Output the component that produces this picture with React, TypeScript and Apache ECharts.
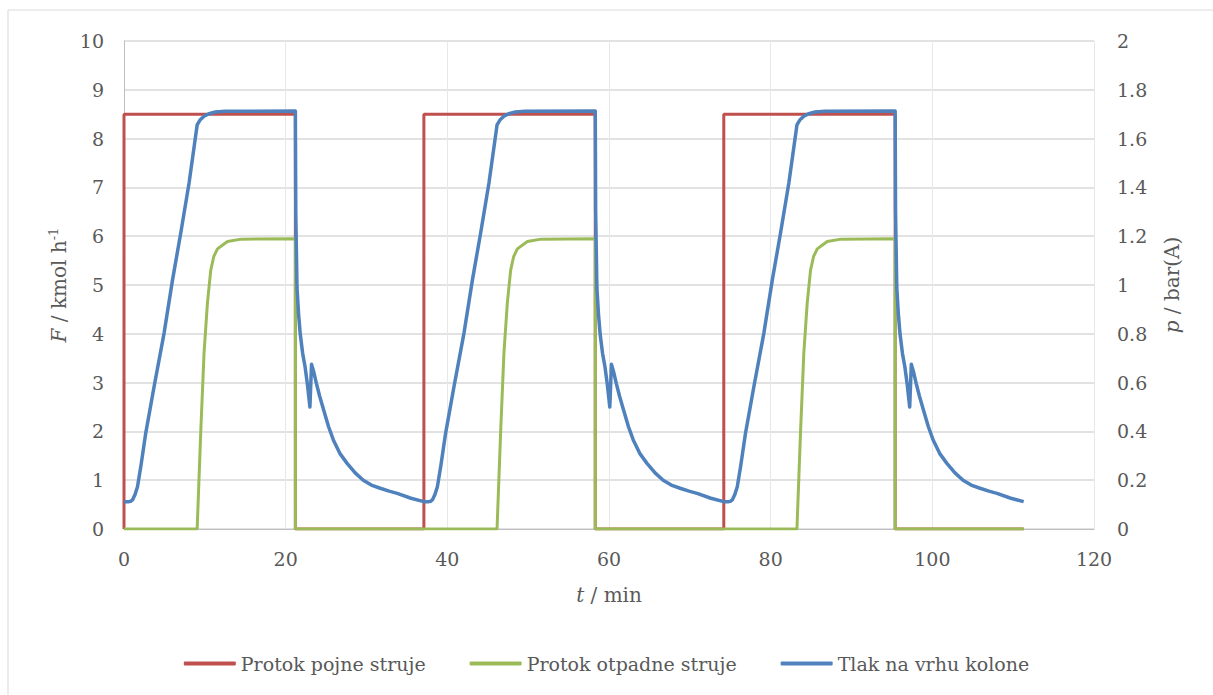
import React, { useEffect, useRef } from "react";
import * as echarts from "echarts";

// Time in minutes, value pairs
const feedFlow: [number, number][] = [
  [0, 0], [0, 8.5], [21.2, 8.5], [21.2, 0],
  [37.1, 0], [37.1, 8.5], [58.3, 8.5], [58.3, 0],
  [74.2, 0], [74.2, 8.5], [95.4, 8.5], [95.4, 0], [111.3, 0],
];

const wasteFlow: [number, number][] = [
  [0, 0], [9.05, 0], [9.49, 1.97], [9.9, 3.6], [10.32, 4.63], [10.73, 5.3], [11.1, 5.58],
  [11.56, 5.74], [12.8, 5.89], [14.5, 5.94], [21.2, 5.95], [21.2, 0],
  [46.15, 0], [46.59, 1.97], [47.0, 3.6], [47.42, 4.63], [47.83, 5.3], [48.2, 5.58],
  [48.66, 5.74], [49.9, 5.89], [51.6, 5.94], [58.3, 5.95], [58.3, 0],
  [83.25, 0], [83.69, 1.97], [84.1, 3.6], [84.52, 4.63], [84.93, 5.3], [85.3, 5.58],
  [85.76, 5.74], [87.0, 5.89], [88.7, 5.94], [95.4, 5.95], [95.4, 0], [111.3, 0],
];

const topPressure: [number, number][] = [
  [0, 0.112], [0.6, 0.112], [0.85, 0.114], [1.05, 0.119], [1.35, 0.14], [1.67, 0.173],
  [2.1, 0.26], [2.69, 0.393], [3.72, 0.583], [4.96, 0.803], [6.0, 1.02], [7.02, 1.213],
  [8.05, 1.418], [9.05, 1.656], [9.4, 1.676], [9.9, 1.692], [10.5, 1.702], [11.3, 1.709],
  [12.5, 1.712], [21.2, 1.713],
  [21.25, 1.3], [21.4, 0.99], [21.6, 0.88], [21.8, 0.8], [22.1, 0.72], [22.4, 0.665],
  [22.7, 0.59], [23.0, 0.5], [23.2, 0.675], [23.5, 0.64], [23.8, 0.597], [24.2, 0.545],
  [24.7, 0.488], [25.3, 0.42], [25.9, 0.365], [26.7, 0.31], [27.6, 0.269], [28.6, 0.23],
  [29.6, 0.2], [30.6, 0.18], [31.7, 0.167], [32.8, 0.155], [33.8, 0.146], [35.5, 0.126],
  [37.1, 0.112],
  [37.7, 0.112], [37.95, 0.114], [38.15, 0.119], [38.45, 0.14], [38.77, 0.173],
  [39.2, 0.26], [39.79, 0.393], [40.82, 0.583], [42.06, 0.803], [43.1, 1.02], [44.12, 1.213],
  [45.15, 1.418], [46.15, 1.656], [46.5, 1.676], [47.0, 1.692], [47.6, 1.702], [48.4, 1.709],
  [49.6, 1.712], [58.3, 1.713],
  [58.35, 1.3], [58.5, 0.99], [58.7, 0.88], [58.9, 0.8], [59.2, 0.72], [59.5, 0.665],
  [59.8, 0.59], [60.1, 0.5], [60.3, 0.675], [60.6, 0.64], [60.9, 0.597], [61.3, 0.545],
  [61.8, 0.488], [62.4, 0.42], [63.0, 0.365], [63.8, 0.31], [64.7, 0.269], [65.7, 0.23],
  [66.7, 0.2], [67.7, 0.18], [68.8, 0.167], [69.9, 0.155], [70.9, 0.146], [72.6, 0.126],
  [74.2, 0.112],
  [74.8, 0.112], [75.05, 0.114], [75.25, 0.119], [75.55, 0.14], [75.87, 0.173],
  [76.3, 0.26], [76.89, 0.393], [77.92, 0.583], [79.16, 0.803], [80.2, 1.02], [81.22, 1.213],
  [82.25, 1.418], [83.25, 1.656], [83.6, 1.676], [84.1, 1.692], [84.7, 1.702], [85.5, 1.709],
  [86.7, 1.712], [95.4, 1.713],
  [95.45, 1.3], [95.6, 0.99], [95.8, 0.88], [96.0, 0.8], [96.3, 0.72], [96.6, 0.665],
  [96.9, 0.59], [97.2, 0.5], [97.4, 0.675], [97.7, 0.64], [98.0, 0.597], [98.4, 0.545],
  [98.9, 0.488], [99.5, 0.42], [100.1, 0.365], [100.9, 0.31], [101.8, 0.269], [102.8, 0.23],
  [103.8, 0.2], [104.8, 0.18], [105.9, 0.167], [107.0, 0.155], [108.0, 0.146], [109.7, 0.126],
  [111.3, 0.112],
];

const seriesNames = ["Protok pojne struje", "Protok otpadne struje", "Tlak na vrhu kolone"];
const seriesColors = ["#C0504D", "#9BBB59", "#4F81BD"];

const FONT = "DejaVu Serif";
const TXT = "#595959";
const TICK = 19;
const TITLE = 20;

export default function App() {
  const ref = useRef<HTMLDivElement>(null);

  useEffect(() => {
    document.body.style.margin = "0";
    const chart = echarts.init(ref.current!, undefined, { renderer: "svg" });
    chart.setOption({
      animation: false,
      backgroundColor: "#ffffff",
      textStyle: { fontFamily: FONT, color: TXT },
      graphic: [
        {
          type: "rect",
          shape: { x: 8, y: 10, width: 1400, height: 900 },
          style: { fill: "none", stroke: "#D9D9D9", lineWidth: 1 },
          silent: true,
        },
      ],
      grid: { left: 124, right: 119, top: 41, bottom: 166 },
      legend: {
        top: 649,
        left: "center",
        icon: "roundRect",
        itemWidth: 52,
        itemHeight: 4,
        itemGap: 44,
        textStyle: { fontFamily: FONT, fontSize: 19, color: TXT },
        data: seriesNames,
      },
      xAxis: {
        type: "value",
        min: 0,
        max: 120,
        interval: 20,
        name: "{i|t} / min",
        nameLocation: "middle",
        nameGap: 56,
        nameTextStyle: {
          fontFamily: FONT,
          fontSize: TITLE,
          color: TXT,
          rich: {
            i: { fontFamily: FONT, fontSize: TITLE, color: TXT, fontStyle: "italic" },
          },
        },
        axisLine: { show: true, lineStyle: { color: "#BFBFBF", width: 1 } },
        axisTick: { show: false },
        axisLabel: { fontFamily: FONT, fontSize: TICK, color: TXT, margin: 20 },
        splitLine: { show: true, lineStyle: { color: "#E8E8E8", width: 1 } },
      },
      yAxis: [
        {
          type: "value",
          min: 0,
          max: 10,
          interval: 1,
          name: "{i|F} / kmol h{s|-1}",
          nameLocation: "middle",
          nameRotate: 90,
          nameGap: 52,
          nameTextStyle: {
            fontFamily: FONT,
            fontSize: TITLE,
            color: TXT,
            rich: {
              i: { fontFamily: FONT, fontSize: TITLE, color: TXT, fontStyle: "italic", lineHeight: 24 },
              s: { fontFamily: FONT, fontSize: 13, color: TXT, verticalAlign: "top", lineHeight: 24 },
            },
          },
          axisLine: { show: true, lineStyle: { color: "#BFBFBF", width: 1 } },
          axisTick: { show: false },
          axisLabel: { fontFamily: FONT, fontSize: TICK, color: TXT, margin: 20 },
          splitLine: { show: true, lineStyle: { color: "#D9D9D9", width: 1.5 } },
        },
        {
          type: "value",
          min: 0,
          max: 2,
          interval: 0.2,
          name: "{i|p} / bar(A)",
          nameLocation: "middle",
          nameRotate: 90,
          nameGap: 68,
          nameTextStyle: {
            fontFamily: FONT,
            fontSize: TITLE,
            color: TXT,
            rich: {
              i: { fontFamily: FONT, fontSize: TITLE, color: TXT, fontStyle: "italic" },
            },
          },
          axisLine: { show: false },
          axisTick: { show: false },
          axisLabel: { fontFamily: FONT, fontSize: TICK, color: TXT, margin: 23 },
          splitLine: { show: false },
        },
      ],
      series: [
        {
          name: seriesNames[0],
          type: "line",
          yAxisIndex: 0,
          data: feedFlow,
          showSymbol: false,
          color: seriesColors[0],
          lineStyle: { width: 3, color: seriesColors[0] },
        },
        {
          name: seriesNames[1],
          type: "line",
          yAxisIndex: 0,
          data: wasteFlow,
          showSymbol: false,
          color: seriesColors[1],
          lineStyle: { width: 3, color: seriesColors[1] },
        },
        {
          name: seriesNames[2],
          type: "line",
          yAxisIndex: 1,
          data: topPressure,
          showSymbol: false,
          color: seriesColors[2],
          lineStyle: { width: 3.5, color: seriesColors[2], join: "round" },
        },
      ],
    });
    return () => chart.dispose();
  }, []);

  return <div ref={ref} style={{ width: 1213, height: 695 }} />;
}
